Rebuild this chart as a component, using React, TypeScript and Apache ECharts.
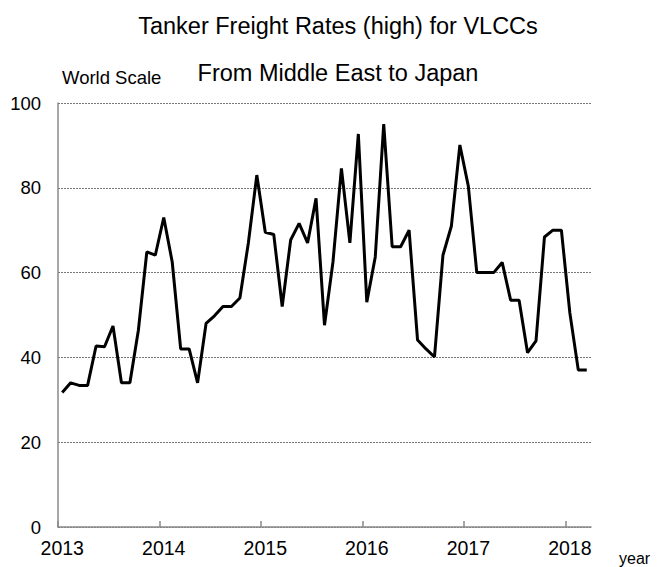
import React, { useEffect, useRef } from "react";
import * as echarts from "echarts";

const years = ["2013", "2014", "2015", "2016", "2017", "2018"];
const months = [
  "2013-01","2013-02","2013-03","2013-04","2013-05","2013-06","2013-07","2013-08","2013-09","2013-10","2013-11","2013-12",
  "2014-01","2014-02","2014-03","2014-04","2014-05","2014-06","2014-07","2014-08","2014-09","2014-10","2014-11","2014-12",
  "2015-01","2015-02","2015-03","2015-04","2015-05","2015-06","2015-07","2015-08","2015-09","2015-10","2015-11","2015-12",
  "2016-01","2016-02","2016-03","2016-04","2016-05","2016-06","2016-07","2016-08","2016-09","2016-10","2016-11","2016-12",
  "2017-01","2017-02","2017-03","2017-04","2017-05","2017-06","2017-07","2017-08","2017-09","2017-10","2017-11","2017-12",
  "2018-01","2018-02","2018-03",
];
const rates = [
  31.7, 34.0, 33.4, 33.4, 42.7, 42.5, 47.4, 34.0, 34.0, 46.4, 64.9, 64.1,
  73.0, 62.5, 42.0, 42.0, 34.0, 48.0, 49.8, 52.0, 52.0, 54.0, 67.0, 83.0,
  69.5, 69.0, 52.0, 67.7, 71.6, 67.0, 77.5, 47.6, 62.5, 84.6, 67.0, 92.7,
  53.0, 63.7, 95.0, 66.1, 66.1, 70.0, 44.1, 42.0, 40.1, 64.1, 71.0, 90.1,
  80.4, 60.0, 60.0, 60.0, 62.4, 53.5, 53.5, 41.1, 43.9, 68.4, 70.0, 70.0,
  50.5, 37.0, 37.0,
];
const yTicks = [0, 20, 40, 60, 80, 100];

const title = "Tanker Freight Rates (high) for VLCCs";
const subtitle = "From Middle East to Japan";
const yName = "World Scale";
const xName = "year";

export default function App() {
  const ref = useRef<HTMLDivElement>(null);
  useEffect(() => {
    if (!ref.current) return;
    const chart = echarts.init(ref.current, null, { renderer: "svg" });
    const yearTicks = years.map((_, k) => k * 12);
    const yearLabels = years.map((_, k) => k * 12 + 0.5);
    chart.setOption({
      animation: false,
      backgroundColor: "#ffffff",
      grid: { left: 58, right: 69, top: 103, bottom: 40, containLabel: false },
      graphic: [
        {
          type: "text",
          x: 338,
          y: 26,
          style: {
            text: title,
            font: '23.5px "Liberation Sans", Arial, sans-serif',
            fill: "#000",
            textAlign: "center",
            textVerticalAlign: "middle",
          },
        },
        {
          type: "text",
          x: 338,
          y: 73,
          style: {
            text: subtitle,
            font: '23.5px "Liberation Sans", Arial, sans-serif',
            fill: "#000",
            textAlign: "center",
            textVerticalAlign: "middle",
          },
        },
        {
          type: "text",
          x: 62,
          y: 77,
          style: {
            text: yName,
            font: '18.5px "Liberation Sans", Arial, sans-serif',
            fill: "#000",
            textAlign: "left",
            textVerticalAlign: "middle",
          },
        },
        {
          type: "text",
          x: 619,
          y: 558,
          style: {
            text: xName,
            font: '16px "Liberation Sans", Arial, sans-serif',
            fill: "#000",
            textAlign: "left",
            textVerticalAlign: "middle",
          },
        },
      ],
      xAxis: {
        type: "value",
        min: 0,
        max: months.length,
        axisLine: { show: true, lineStyle: { color: "#8a8a8a", width: 1.5 } },
        axisTick: {
          show: true,
          inside: true,
          length: 6,
          customValues: yearTicks,
          lineStyle: { color: "#8a8a8a", width: 1.5 },
        },
        axisLabel: {
          customValues: yearLabels,
          formatter: (v: number) => years[Math.floor(v / 12)] ?? "",
          color: "#000",
          fontSize: 19.5,
          fontFamily: '"Liberation Sans", Arial, sans-serif',
          margin: 11,
        },
        splitLine: { show: false },
      },
      yAxis: {
        type: "value",
        min: 0,
        max: 100,
        interval: 20,
        axisLine: { show: true, lineStyle: { color: "#8a8a8a", width: 1.5 } },
        axisTick: { show: false },
        axisLabel: {
          color: "#000",
          fontSize: 18.5,
          fontFamily: '"Liberation Sans", Arial, sans-serif',
          margin: 17,
          formatter: (v: number) => (yTicks.includes(v) ? String(v) : ""),
        },
        splitLine: { show: true, lineStyle: { color: "#777", type: [2, 1], width: 1 } },
      },
      series: [
        {
          type: "line",
          data: rates.map((v, i) => [i + 0.5, v]),
          symbol: "none",
          lineStyle: { color: "#000", width: 3 },
          itemStyle: { color: "#000" },
        },
      ],
    });
    return () => chart.dispose();
  }, []);
  return <div ref={ref} style={{ width: 660, height: 567, position: "absolute", left: 0, top: 0 }} />;
}
